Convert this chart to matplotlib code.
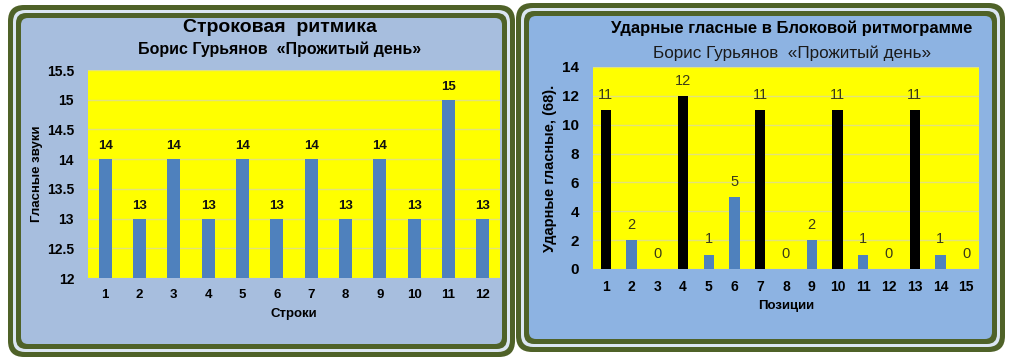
import matplotlib
matplotlib.use("Agg")
import matplotlib.pyplot as plt
from matplotlib.patches import FancyBboxPatch
import numpy as np

# ---------------- data ----------------
left_categories = [str(i) for i in range(1, 13)]
left_values = [14, 13, 14, 13, 14, 13, 14, 13, 14, 13, 15, 13]
left_title = "Строковая  ритмика"
left_subtitle = "Борис Гурьянов  «Прожитый день»"
left_xlabel = "Строки"
left_ylabel = "Гласные звуки"
left_yticks = [12, 12.5, 13, 13.5, 14, 14.5, 15, 15.5]

right_categories = [str(i) for i in range(1, 16)]
right_values = [11, 2, 0, 12, 1, 5, 11, 0, 2, 11, 1, 0, 11, 1, 0]
right_strong = [True, False, False, True, False, False, True, False, False,
                True, False, False, True, False, False]
right_title = "Ударные гласные в Блоковой ритмограмме"
right_subtitle = "Борис Гурьянов  «Прожитый день»"
right_xlabel = "Позиции"
right_ylabel = "Ударные гласные, (68)."
right_yticks = [0, 2, 4, 6, 8, 10, 12, 14]

# ---------------- style ----------------
W, H = 1010, 364
GREEN = "#4F6228"
LIGHT = "#DCE6F2"
LEFT_FILL = "#A7BEDE"
RIGHT_FILL = "#8DB3E2"
YELLOW = "#FFFF00"
BAR_BLUE = "#4F81BD"
GRID = "#E2E27A"

fontA = ["Liberation Sans", "DejaVu Sans"]
fontC = ["Liberation Sans Narrow", "Liberation Sans", "DejaVu Sans"]

fig = plt.figure(figsize=(W / 100, H / 100), dpi=100)
fig.patch.set_facecolor("white")

bg = fig.add_axes([0, 0, 1, 1])
bg.set_xlim(0, W)
bg.set_ylim(H, 0)
bg.axis("off")


def frame(x0, y0, x1, y1, fill):
    layers = [(0, GREEN, 16), (5, LIGHT, 12), (8, GREEN, 10), (13, fill, 7)]
    for inset, col, r in layers:
        p = FancyBboxPatch((x0 + inset, y0 + inset),
                           (x1 - x0) - 2 * inset, (y1 - y0) - 2 * inset,
                           boxstyle=f"round,pad=0,rounding_size={r}",
                           facecolor=col, edgecolor="none")
        bg.add_patch(p)


frame(8, 5, 515, 357, LEFT_FILL)
frame(516, 3, 1005, 352, RIGHT_FILL)


def px_axes(x0, y0, x1, y1):
    return fig.add_axes([x0 / W, (H - y1) / H, (x1 - x0) / W, (y1 - y0) / H])


# ---------------- left chart ----------------
axL = px_axes(88, 70, 500, 278)
axL.set_facecolor(YELLOW)
xl = np.arange(len(left_values))
bars = axL.bar(xl, left_values, width=0.38, color=BAR_BLUE, zorder=3)
axL.set_xlim(-0.5, len(left_values) - 0.5)
axL.set_ylim(12, 15.5)
axL.set_yticks(left_yticks)
axL.set_yticklabels([f"{v:g}" for v in left_yticks], fontfamily=fontA,
                    fontweight="bold", fontsize=10)
axL.set_xticks(xl)
axL.set_xticklabels(left_categories, fontfamily=fontA, fontweight="bold", fontsize=9.5)
axL.tick_params(axis="y", length=0, pad=10)
axL.tick_params(axis="x", length=0, pad=8)
for s in axL.spines.values():
    s.set_visible(False)
axL.grid(axis="y", color=GRID, linewidth=1, zorder=0)
axL.set_axisbelow(True)
for b, v in zip(bars, left_values):
    axL.annotate(f"{v}", (b.get_x() + b.get_width() / 2, v), xytext=(0, 5),
                 textcoords="offset points", ha="center", va="bottom",
                 fontfamily=fontA, fontweight="bold", fontsize=9.5, color="#111111")
axL.set_xlabel(left_xlabel, fontfamily=fontA, fontweight="bold", fontsize=9.5, labelpad=5)
axL.set_ylabel(left_ylabel, fontfamily=fontA, fontweight="bold", fontsize=9.5, labelpad=3)

fig.text(280 / W, 1 - 28 / H, left_title, ha="center", va="center",
         fontfamily=fontA, fontweight="bold", fontsize=14)
fig.text(280 / W, 1 - 49 / H, left_subtitle, ha="center", va="center",
         fontfamily=fontA, fontweight="bold", fontsize=11.5)

# ---------------- right chart ----------------
axR = px_axes(593, 67, 979, 269)
axR.set_facecolor(YELLOW)
xr = np.arange(len(right_values))
colors = ["black" if s else BAR_BLUE for s in right_strong]
barsR = axR.bar(xr, right_values, width=0.4, color=colors, zorder=3)
axR.set_xlim(-0.5, len(right_values) - 0.5)
axR.set_ylim(0, 14)
axR.set_yticks(right_yticks)
axR.set_yticklabels([str(v) for v in right_yticks], fontfamily=fontC,
                    fontweight="bold", fontsize=11)
axR.set_xticks(xr)
axR.set_xticklabels(right_categories, fontfamily=fontC, fontweight="bold", fontsize=10)
axR.tick_params(axis="y", length=0, pad=10)
axR.tick_params(axis="x", length=0, pad=8)
for s in axR.spines.values():
    s.set_visible(False)
axR.grid(axis="y", color=GRID, linewidth=1, zorder=0)
axR.set_axisbelow(True)
for b, v in zip(barsR, right_values):
    axR.annotate(f"{v}", (b.get_x() + b.get_width() / 2, v), xytext=(0, 6),
                 textcoords="offset points", ha="center", va="bottom",
                 fontfamily=fontC, fontsize=10.5, color="#3a3a18")
axR.set_xlabel(right_xlabel, fontfamily=fontA, fontweight="bold", fontsize=9.5, labelpad=4)
axR.set_ylabel(right_ylabel, fontfamily=fontA, fontweight="bold", fontsize=10.5, labelpad=4)

fig.text(792 / W, 1 - 28 / H, right_title, ha="center", va="center",
         fontfamily=fontC, fontweight="bold", fontsize=12)
fig.text(792 / W, 1 - 53 / H, right_subtitle, ha="center", va="center",
         fontfamily=fontC, fontsize=12.3, color="#1a1a1a")

fig.savefig("out.png", dpi=100, facecolor=fig.get_facecolor())
